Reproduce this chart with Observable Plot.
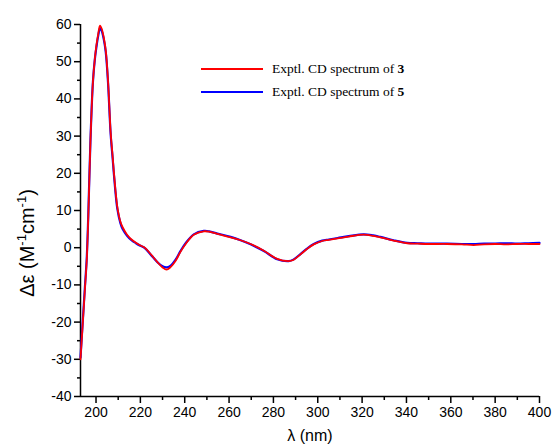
<!DOCTYPE html>
<html>
<head>
<meta charset="utf-8">
<script src="https://cdn.jsdelivr.net/npm/d3@7"></script>
<script src="https://cdn.jsdelivr.net/npm/@observablehq/plot@0.6"></script>
<style>
  html, body { margin: 0; padding: 0; background: #ffffff; }
  #wrap { position: relative; width: 554px; height: 446px; overflow: hidden; background: #fff; }
  #wrap svg { display: block; }
  .ylab { position: absolute; left: 27px; top: 243px; transform: translate(-50%, -50%) rotate(-90deg);
          font-family: Arial, "Liberation Sans", sans-serif; font-size: 20px; white-space: nowrap; color: #000; }
  .ylab sup { font-size: 13px; vertical-align: 8px; line-height: 0; }
  .xlab { position: absolute; left: 310px; top: 436px; transform: translate(-50%, -50%);
          font-family: Arial, "Liberation Sans", sans-serif; font-size: 16px; white-space: nowrap; color: #000; }
  .leg { position: absolute; left: 201px; font-family: "Times New Roman", "Liberation Serif", serif;
         font-size: 13.5px; color: #000; white-space: nowrap; display: flex; align-items: center; }
  .leg span.sw { display: inline-block; width: 62px; height: 2px; margin-right: 9px; }
</style>
</head>
<body>
<div id="wrap"></div>
<script>
const lambda = [193, 194, 195, 195.8, 196.5, 197.5, 198.6, 199.5, 200.2, 201, 201.8, 202.6, 203.5, 204.4, 205.4, 206.6, 207.5, 208.1, 209.6, 211, 212, 214, 216, 218, 220, 222, 224.6, 227.7, 230, 231.8, 233.5, 235.9, 238, 240.4, 244.1, 248.6, 251, 254.7, 260.7, 265.2, 269.7, 275.7, 281.7, 286.9, 289, 292.2, 295, 298.2, 302, 305, 309, 314, 320.7, 325, 328.2, 334.2, 340.3, 345, 350, 358.3, 365, 370.3, 375, 380, 385, 390, 395, 400];
const cd3 = [-30, -20.5, -11, -3.5, 8, 28.8, 44.5, 51, 54.5, 57.5, 59.7, 58.8, 56.5, 53, 45, 31, 24.5, 20, 11, 7, 5.5, 3.5, 2.2, 1.3, 0.6, 0, -1.7, -3.9, -5.3, -5.9, -5.3, -3.5, -1.2, 1.0, 3.5, 4.4, 4.3, 3.7, 2.8, 2.0, 1.0, -0.8, -3.0, -3.6, -3.3, -1.8, -0.4, 0.9, 1.8, 2.1, 2.5, 3.0, 3.5, 3.2, 2.8, 1.9, 1.2, 1.1, 1.0, 1.0, 0.9, 0.7, 0.9, 1.0, 0.9, 1.0, 1.0, 1.0];
const cd5 = [-29.5, -20, -10.5, -3, 8.5, 29, 44.5, 50.8, 54, 57, 59.0, 58.2, 56, 52.5, 44.5, 30.5, 24, 19.5, 10.5, 6.6, 5.0, 3.2, 2.0, 1.2, 0.5, -0.1, -1.8, -3.9, -5.0, -5.3, -4.9, -3.2, -1.0, 1.2, 3.6, 4.5, 4.4, 3.8, 2.9, 2.0, 0.9, -0.9, -3.1, -3.6, -3.2, -1.7, -0.3, 1.0, 1.9, 2.2, 2.6, 3.1, 3.6, 3.3, 2.9, 2.0, 1.3, 1.2, 1.1, 1.1, 1.0, 1.0, 1.1, 1.1, 1.2, 1.1, 1.2, 1.3];
const xMajor = [200, 220, 240, 260, 280, 300, 320, 340, 360, 380, 400];
const xMinor = [210, 230, 250, 270, 290, 310, 330, 350, 370, 390];
const yMajor = [-40, -30, -20, -10, 0, 10, 20, 30, 40, 50, 60];
const yMinor = [-35, -25, -15, -5, 5, 15, 25, 35, 45, 55];
const seriesNames = ["Exptl. CD spectrum of ", "Exptl. CD spectrum of "];
const seriesIds = ["3", "5"];
const colors = ["#ff0000", "#0000ff"];

const rows3 = lambda.map((x, i) => ({x, y: cd3[i]}));
const rows5 = lambda.map((x, i) => ({x, y: cd5[i]}));

const font = 'Arial, "Liberation Sans", sans-serif';
const chart = Plot.plot({
  width: 554, height: 446,
  marginLeft: 80, marginRight: 15, marginTop: 24, marginBottom: 50,
  style: {fontFamily: font, fontSize: "14px", color: "#000", background: "transparent"},
  x: {domain: [193, 400]},
  y: {domain: [-40, 60]},
  marks: [
    Plot.axisX({ticks: xMinor, tickSize: 4, tickFormat: () => "", label: null, strokeWidth: 1.5}),
    Plot.axisX({ticks: xMajor, tickSize: 7, tickPadding: 4, label: null, strokeWidth: 1.5, fontSize: 14, tickFormat: d => String(d)}),
    Plot.axisY({ticks: yMinor, tickSize: 3, tickFormat: () => "", label: null, strokeWidth: 1.5}),
    Plot.axisY({ticks: yMajor, tickSize: 6, tickPadding: 3, label: null, strokeWidth: 1.5, fontSize: 14, tickFormat: d => String(d)}),
    Plot.ruleY([-40], {stroke: "#000", strokeWidth: 1.5}),
    Plot.ruleX([193], {stroke: "#000", strokeWidth: 1.5}),
    Plot.line(rows5, {x: "x", y: "y", stroke: colors[1], strokeWidth: 2.2, curve: "catmull-rom"}),
    Plot.line(rows3, {x: "x", y: "y", stroke: colors[0], strokeWidth: 1.8, curve: "catmull-rom"})
  ]
});
const wrap = document.getElementById("wrap");
wrap.appendChild(chart);

const yl = document.createElement("div");
yl.className = "ylab";
yl.innerHTML = "&Delta;&epsilon; (M<sup>-1</sup>cm<sup>-1</sup>)";
wrap.appendChild(yl);

const xl = document.createElement("div");
xl.className = "xlab";
xl.textContent = "λ (nm)";
wrap.appendChild(xl);

const legTops = [69, 91.5];
seriesNames.forEach((name, i) => {
  const d = document.createElement("div");
  d.className = "leg";
  d.style.top = (legTops[i] - 9) + "px";
  d.style.height = "18px";
  const sw = document.createElement("span");
  sw.className = "sw";
  sw.style.background = colors[i];
  d.appendChild(sw);
  const t = document.createElement("span");
  t.textContent = name;
  const b = document.createElement("b");
  b.textContent = seriesIds[i];
  t.appendChild(b);
  d.appendChild(t);
  wrap.appendChild(d);
});
</script>
</body>
</html>
